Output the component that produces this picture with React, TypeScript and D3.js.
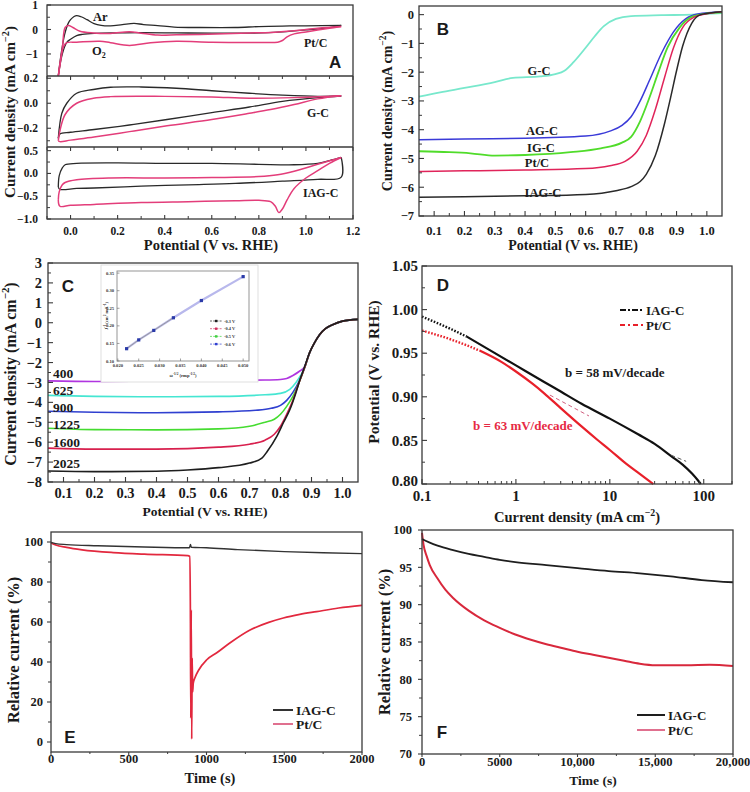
import React from "react";
import * as d3 from "d3";

type P = [number, number];
const SERIF = "'Liberation Serif','Times New Roman',Times,serif";
const SANS = "'Liberation Sans',Arial,Helvetica,sans-serif";
const AX = "#3a3a3a";
const INK = "#1a1a1a";
const BLK = "#2a2a2a";
const PINK = "#e33d7a";

// ---------------- Panel A : cyclic voltammograms ----------------
const aXTicks = [0, 0.2, 0.4, 0.6, 0.8, 1.0, 1.2];
const aXMinor = [-0.1, 0.1, 0.3, 0.5, 0.7, 0.9, 1.1];
const aY1Ticks = [1, 0, -1];
const aY1Minor = [0.5, -0.5, -1.5];
const aY2Ticks = [0.2, 0.0, -0.2];
const aY2Minor = [0.1, -0.1, -0.3];
const aY3Ticks = [0.5, 0.0, -0.5, -1.0];
const aY3Minor = [0.25, -0.25, -0.75];

const ptArFwd: P[] = [[-0.052, -1.9], [-0.04, -1.0], [-0.025, -0.2], [-0.01, 0.25], [0.0, 0.4], [0.015, 0.53], [0.026, 0.57], [0.045, 0.52], [0.07, 0.4], [0.1, 0.24], [0.13, 0.17], [0.17, 0.15], [0.22, 0.2], [0.27, 0.25], [0.31, 0.2], [0.37, 0.16], [0.44, 0.1], [0.55, 0.08], [0.7, 0.08], [0.8, 0.12], [0.9, 0.14], [1.0, 0.15], [1.15, 0.17]];
const ptArRev: P[] = [[1.15, 0.17], [1.1, 0.08], [1.0, -0.02], [0.9, -0.1], [0.76, -0.15], [0.6, -0.15], [0.45, -0.14], [0.3, -0.13], [0.2, -0.14], [0.1, -0.16], [0.05, -0.2], [0.026, -0.25], [0.0, -0.4], [-0.016, -0.53], [-0.035, -1.0], [-0.052, -1.9]];
const ptO2Fwd: P[] = [[-0.052, -1.9], [-0.035, -0.8], [-0.023, 0.08], [-0.009, 0.16], [0.01, 0.08], [0.04, -0.07], [0.097, -0.14], [0.17, -0.16], [0.25, -0.09], [0.3, -0.15], [0.37, -0.23], [0.45, -0.22], [0.55, -0.2], [0.76, -0.14], [0.85, -0.12], [0.95, -0.05], [1.05, 0.05], [1.15, 0.12]];
const ptO2Rev: P[] = [[1.15, 0.12], [1.1, 0.05], [1.0, -0.1], [0.95, -0.18], [0.92, -0.3], [0.9, -0.45], [0.88, -0.52], [0.8, -0.53], [0.6, -0.52], [0.45, -0.48], [0.34, -0.54], [0.25, -0.65], [0.17, -0.54], [0.125, -0.48], [0.026, -0.52], [-0.016, -0.54], [-0.03, -0.7], [-0.045, -1.4], [-0.052, -1.9]];

const gcArFwd: P[] = [[-0.052, -0.28], [-0.037, -0.08], [-0.016, 0.0], [0.026, 0.08], [0.097, 0.11], [0.17, 0.128], [0.3, 0.13], [0.45, 0.12], [0.6, 0.1], [0.76, 0.08], [0.9, 0.065], [1.05, 0.055], [1.15, 0.058]];
const gcArRev: P[] = [[1.15, 0.058], [1.05, 0.045], [0.9, 0.015], [0.76, -0.03], [0.6, -0.075], [0.41, -0.13], [0.25, -0.174], [0.1, -0.21], [0.0, -0.232], [-0.045, -0.245], [-0.052, -0.28]];
const gcO2Fwd: P[] = [[-0.052, -0.3], [-0.045, -0.22], [-0.023, -0.09], [0.026, 0.0], [0.097, 0.04], [0.17, 0.053], [0.4, 0.055], [0.6, 0.05], [0.76, 0.04], [0.95, 0.045], [1.15, 0.06]];
const gcO2Rev: P[] = [[1.15, 0.06], [1.05, 0.035], [0.95, -0.01], [0.85, -0.05], [0.76, -0.08], [0.6, -0.13], [0.41, -0.18], [0.25, -0.227], [0.1, -0.27], [0.0, -0.295], [-0.045, -0.307], [-0.052, -0.3]];

const iagArFwd: P[] = [[-0.052, -0.3], [-0.048, -0.05], [-0.035, 0.12], [-0.023, 0.19], [0.026, 0.22], [0.2, 0.23], [0.4, 0.22], [0.6, 0.22], [0.8, 0.2], [0.95, 0.19], [1.05, 0.22], [1.1, 0.28], [1.15, 0.35]];
const iagArRev: P[] = [[1.15, 0.35], [1.15, -0.08], [1.05, -0.13], [0.9, -0.17], [0.7, -0.22], [0.5, -0.25], [0.3, -0.28], [0.1, -0.32], [0.026, -0.33], [-0.045, -0.35], [-0.052, -0.3]];
const iagO2Fwd: P[] = [[-0.052, -0.58], [-0.048, -0.4], [-0.035, -0.25], [-0.023, -0.2], [0.026, -0.14], [0.17, -0.1], [0.4, -0.1], [0.6, -0.09], [0.8, -0.07], [0.88, -0.03], [0.95, 0.05], [1.05, 0.2], [1.15, 0.35]];
const iagO2Rev: P[] = [[1.15, 0.35], [1.1, 0.22], [1.05, 0.06], [1.0, -0.1], [0.95, -0.33], [0.92, -0.58], [0.9, -0.78], [0.885, -0.86], [0.87, -0.72], [0.85, -0.62], [0.8, -0.59], [0.7, -0.6], [0.5, -0.62], [0.3, -0.64], [0.1, -0.68], [0.0, -0.7], [-0.045, -0.72], [-0.052, -0.58]];

// ---------------- Panel B : LSV of catalysts ----------------
const bXTicks = [0.1, 0.2, 0.3, 0.4, 0.5, 0.6, 0.7, 0.8, 0.9, 1.0];
const bXMinor = [0.15, 0.25, 0.35, 0.45, 0.55, 0.65, 0.75, 0.85, 0.95];
const bYTicks = [0, -1, -2, -3, -4, -5, -6, -7];
const bYMinor = [-0.5, -1.5, -2.5, -3.5, -4.5, -5.5, -6.5];
const bGC: P[] = [[0.05, -2.85], [0.12, -2.7], [0.2, -2.55], [0.3, -2.35], [0.36, -2.2], [0.45, -2.15], [0.5, -2.07], [0.53, -1.95], [0.56, -1.65], [0.6, -1.15], [0.63, -0.75], [0.66, -0.4], [0.7, -0.15], [0.75, -0.05], [0.85, -0.02], [0.95, 0.0], [1.05, 0.05]];
const bAGC: P[] = [[0.05, -4.35], [0.2, -4.32], [0.4, -4.3], [0.6, -4.22], [0.68, -4.05], [0.72, -3.85], [0.75, -3.55], [0.78, -3.0], [0.81, -2.3], [0.85, -1.35], [0.89, -0.6], [0.93, -0.15], [0.97, 0.02], [1.05, 0.1]];
const bIGC: P[] = [[0.05, -4.75], [0.15, -4.78], [0.22, -4.82], [0.3, -4.9], [0.4, -4.88], [0.55, -4.78], [0.65, -4.65], [0.72, -4.45], [0.75, -4.25], [0.78, -3.7], [0.81, -2.9], [0.84, -2.0], [0.87, -1.15], [0.91, -0.45], [0.95, -0.08], [1.0, 0.04], [1.05, 0.08]];
const bPtC: P[] = [[0.05, -5.45], [0.2, -5.43], [0.4, -5.4], [0.6, -5.35], [0.68, -5.25], [0.73, -5.1], [0.77, -4.75], [0.8, -4.2], [0.83, -3.3], [0.86, -2.2], [0.89, -1.15], [0.92, -0.45], [0.96, -0.08], [1.0, 0.03], [1.05, 0.1]];
const bIAGC: P[] = [[0.05, -6.35], [0.2, -6.33], [0.4, -6.3], [0.6, -6.25], [0.7, -6.12], [0.75, -5.98], [0.78, -5.8], [0.8, -5.55], [0.83, -4.9], [0.86, -3.8], [0.88, -2.9], [0.9, -1.95], [0.92, -1.1], [0.95, -0.3], [0.98, 0.0], [1.05, 0.1]];

// ---------------- Panel C : LSV at rotation rates ----------------
const cXTicks = [0.1, 0.2, 0.3, 0.4, 0.5, 0.6, 0.7, 0.8, 0.9, 1.0];
const cXMinor = [0.15, 0.25, 0.35, 0.45, 0.55, 0.65, 0.75, 0.85, 0.95];
const cYTicks = [3, 2, 1, 0, -1, -2, -3, -4, -5, -6, -7, -8];
const cYMinor = [2.5, 1.5, 0.5, -0.5, -1.5, -2.5, -3.5, -4.5, -5.5, -6.5, -7.5];
const cRpm = ["400", "625", "900", "1225", "1600", "2025"];
const c400: P[] = [[0.05, -2.92], [0.2, -2.95], [0.4, -2.93], [0.6, -2.9], [0.75, -2.88], [0.8, -2.85], [0.82, -2.8], [0.84, -2.65], [0.86, -2.45], [0.878, -2.2], [0.894, -1.5], [0.91, -1.0], [0.926, -0.6], [0.945, -0.3], [0.968, -0.1], [1.0, 0.08], [1.05, 0.17]];
const c625: P[] = [[0.05, -3.65], [0.2, -3.7], [0.4, -3.72], [0.6, -3.7], [0.75, -3.62], [0.8, -3.55], [0.83, -3.35], [0.85, -3.0], [0.865, -2.65], [0.878, -2.25], [0.894, -1.5], [0.91, -1.0], [0.926, -0.6], [0.945, -0.3], [0.968, -0.1], [1.0, 0.08], [1.05, 0.17]];
const c900: P[] = [[0.05, -4.45], [0.2, -4.5], [0.4, -4.52], [0.6, -4.48], [0.72, -4.4], [0.77, -4.3], [0.8, -4.15], [0.82, -3.9], [0.84, -3.5], [0.86, -2.95], [0.878, -2.25], [0.894, -1.5], [0.91, -1.0], [0.926, -0.6], [0.945, -0.3], [0.968, -0.1], [1.0, 0.08], [1.05, 0.17]];
const c1225: P[] = [[0.05, -5.3], [0.2, -5.37], [0.4, -5.38], [0.6, -5.33], [0.7, -5.2], [0.75, -5.0], [0.78, -4.85], [0.8, -4.6], [0.82, -4.2], [0.84, -3.7], [0.86, -3.0], [0.878, -2.25], [0.894, -1.5], [0.91, -1.0], [0.926, -0.6], [0.945, -0.3], [0.968, -0.1], [1.0, 0.08], [1.05, 0.17]];
const c1600: P[] = [[0.05, -6.3], [0.2, -6.35], [0.4, -6.35], [0.6, -6.25], [0.7, -6.1], [0.75, -5.9], [0.78, -5.6], [0.8, -5.2], [0.82, -4.6], [0.84, -3.9], [0.86, -3.0], [0.878, -2.25], [0.894, -1.5], [0.91, -1.0], [0.926, -0.6], [0.945, -0.3], [0.968, -0.1], [1.0, 0.08], [1.05, 0.17]];
const c2025: P[] = [[0.05, -7.45], [0.2, -7.48], [0.4, -7.46], [0.5, -7.4], [0.6, -7.28], [0.7, -7.05], [0.74, -6.8], [0.757, -6.47], [0.788, -5.71], [0.81, -5.0], [0.83, -4.37], [0.85, -3.5], [0.862, -2.9], [0.878, -2.2], [0.894, -1.5], [0.91, -1.0], [0.926, -0.6], [0.945, -0.3], [0.968, -0.1], [1.0, 0.08], [1.05, 0.17]];
const cColors = ["#b035e0", "#45e6d2", "#3040d0", "#45dc30", "#d8204e", "#1e1e1e"];

// inset (Koutecky-Levich)
const kXTicks = [0.02, 0.025, 0.03, 0.035, 0.04, 0.045, 0.05];
const kYTicks = [0.1, 0.15, 0.2, 0.25, 0.3, 0.35];
const kOmega = [0.0221, 0.025, 0.0286, 0.0333, 0.04, 0.05];
const kInvJ = [0.135, 0.16, 0.187, 0.223, 0.272, 0.34];
const kLegend = ["-0.3 V", "-0.4 V", "-0.5 V", "-0.6 V"];
const kLegendColors = ["#222", "#d03060", "#40d040", "#3040d0"];

// ---------------- Panel D : Tafel ----------------
const dXTicks = [0.1, 1, 10, 100];
const dYTicks = [0.8, 0.85, 0.9, 0.95, 1.0, 1.05];
const dYMinor = [0.825, 0.875, 0.925, 0.975, 1.025];
const dIAG: P[] = [[0.1, 0.992], [0.2, 0.978], [0.3, 0.969], [0.5, 0.955], [1, 0.936], [2, 0.917], [3, 0.906], [5, 0.892], [10, 0.875], [20, 0.857], [30, 0.846], [45, 0.832], [60, 0.822], [75, 0.812], [87, 0.804], [93, 0.8]];
const dPt: P[] = [[0.1, 0.976], [0.2, 0.966], [0.3, 0.959], [0.41, 0.953], [0.7, 0.94], [1, 0.929], [1.5, 0.915], [2, 0.904], [3, 0.887], [5, 0.866], [7.3, 0.851], [10, 0.839], [15, 0.823], [20, 0.813], [29, 0.8]];
const dPtFit: P[] = [[2.3, 0.902], [6, 0.878]];
const dIagFit: P[] = [[45, 0.833], [65, 0.826]];

// ---------------- Panel E : methanol tolerance ----------------
const eXTicks = [0, 500, 1000, 1500, 2000];
const eXMinor = [250, 750, 1250, 1750];
const eYTicks = [0, 20, 40, 60, 80, 100];
const eYMinor = [10, 30, 50, 70, 90];
const eIAG: P[] = [[0, 99.8], [30, 99.2], [100, 98.7], [300, 98.1], [600, 97.5], [890, 97.1], [897, 98.8], [902, 97.4], [1000, 97.1], [1200, 96.2], [1500, 95.2], [1750, 94.6], [2000, 94.2]];
const ePt: P[] = [[0, 99.5], [30, 98.5], [100, 97.3], [200, 96.1], [400, 94.7], [600, 93.9], [880, 93.2], [892, 92.8], [896, 70], [899, 12], [902, 66], [905, 1.5], [908, 42], [911, 25], [915, 29.5], [925, 32], [950, 36], [1000, 41], [1066, 44.6], [1150, 49.5], [1280, 56], [1400, 59.8], [1494, 62], [1600, 63.8], [1708, 65.2], [1850, 67], [2000, 68.3]];

// ---------------- Panel F : durability ----------------
const fXTicks = [0, 5000, 10000, 15000, 20000];
const fXLabels = ["0", "5000", "10,000", "15,000", "20,000"];
const fXMinor = [2500, 7500, 12500, 17500];
const fYTicks = [70, 75, 80, 85, 90, 95, 100];
const fYMinor = [72.5, 77.5, 82.5, 87.5, 92.5, 97.5];
const fIAG: P[] = [[0, 98.8], [500, 98.3], [1000, 97.9], [2000, 97.3], [3000, 96.8], [4000, 96.4], [5000, 96.0], [6000, 95.7], [8000, 95.3], [10000, 94.9], [12000, 94.5], [14000, 94.2], [16000, 93.8], [18000, 93.3], [20000, 93.0]];
const fPt: P[] = [[0, 99.6], [100, 98.0], [300, 96.5], [500, 95.3], [1000, 93.5], [1500, 92.0], [2000, 90.9], [3000, 89.2], [4000, 87.9], [5000, 86.9], [6000, 86.0], [7000, 85.3], [8000, 84.7], [9000, 84.2], [10000, 83.7], [11000, 83.3], [12000, 82.9], [13000, 82.5], [14000, 82.1], [15000, 81.9], [17000, 81.9], [18500, 81.95], [20000, 81.8]];

// ---------------- helpers ----------------
const fmtN = (d: number, p: number) => (d < 0 ? "\u2212" : "") + Math.abs(d).toFixed(p);

function path(data: P[], xs: any, ys: any, curve: any = d3.curveMonotoneX) {
  return d3.line<P>().x((d) => xs(d[0])).y((d) => ys(d[1])).curve(curve)(data) || "";
}

function YAxis({ ys, x0, major, minor = [], fmt, fs, gap, inward = true, len = 5, mlen = 3, shift = () => 0 }: any) {
  const s = inward ? 1 : -1;
  return (
    <g>
      {major.map((t: number, i: number) => (
        <g key={i}>
          <line x1={x0} x2={x0 + s * len} y1={ys(t)} y2={ys(t)} stroke={AX} strokeWidth={1.1} />
          <text x={x0 - gap} y={ys(t) + shift(t)} dy="0.35em" textAnchor="end" fontSize={fs} fontFamily={SERIF} fontWeight="bold" fill={INK}>{fmt(t)}</text>
        </g>
      ))}
      {minor.map((t: number, i: number) => (
        <line key={"m" + i} x1={x0} x2={x0 + s * mlen} y1={ys(t)} y2={ys(t)} stroke={AX} strokeWidth={1} />
      ))}
    </g>
  );
}

function XAxis({ xs, y0, major, minor = [], fmt, fs, gap, dir = -1, len = 5, mlen = 3, labels = true }: any) {
  return (
    <g>
      {major.map((t: number, i: number) => (
        <g key={i}>
          <line x1={xs(t)} x2={xs(t)} y1={y0} y2={y0 + dir * len} stroke={AX} strokeWidth={1.1} />
          {labels && (
            <text x={xs(t)} y={y0 + gap} dy="0.71em" textAnchor="middle" fontSize={fs} fontFamily={SERIF} fontWeight="bold" fill={INK}>{fmt(t, i)}</text>
          )}
        </g>
      ))}
      {minor.map((t: number, i: number) => (
        <line key={"m" + i} x1={xs(t)} x2={xs(t)} y1={y0} y2={y0 + dir * mlen} stroke={AX} strokeWidth={1} />
      ))}
    </g>
  );
}

function Frame({ x0, x1, y0, y1 }: any) {
  return <rect x={x0} y={y0} width={x1 - x0} height={y1 - y0} fill="none" stroke={AX} strokeWidth={1.3} />;
}

function Lbl({ x, y, fs, children, anchor = "start", fill = INK, family = SERIF }: any) {
  return (
    <text x={x} y={y} fontSize={fs} fontFamily={family} fontWeight="bold" textAnchor={anchor} fill={fill}>{children}</text>
  );
}

function CurrentLabel({ x, y, fs, rotate = true }: any) {
  return (
    <text transform={`translate(${x},${y})${rotate ? " rotate(-90)" : ""}`} textAnchor="middle" fontSize={fs} fontFamily={SERIF} fontWeight="bold" fill={INK}>
      {"Current density (mA cm"}
      <tspan dy={-fs * 0.42} fontSize={fs * 0.68}>{"\u22122"}</tspan>
      <tspan dy={fs * 0.42}>{")"}</tspan>
    </text>
  );
}

function RotLabel({ x, y, fs, children }: any) {
  return (
    <text transform={`translate(${x},${y}) rotate(-90)`} textAnchor="middle" fontSize={fs} fontFamily={SERIF} fontWeight="bold" fill={INK}>{children}</text>
  );
}

const cr = d3.curveCatmullRom.alpha(0.5);

export default function App() {
  // ---- scales ----
  const aX = d3.scaleLinear().domain([-0.1, 1.2]).range([47, 353]);
  const aY1 = d3.scaleLinear().domain([-1.9, 1.0]).range([76, 5]);
  const aY2 = d3.scaleLinear().domain([-0.35, 0.218]).range([147, 76]);
  const aY3 = d3.scaleLinear().domain([-1.0, 0.58]).range([219, 147]);

  const bX = d3.scaleLinear().domain([0.05, 1.05]).range([419, 722]);
  const bY = d3.scaleLinear().domain([-7, 0.3]).range([216, 6]);

  const cX = d3.scaleLinear().domain([0.05, 1.05]).range([48, 358]);
  const cY = d3.scaleLinear().domain([-8, 3]).range([482, 263]);

  const kX = d3.scaleLinear().domain([0.0198, 0.0514]).range([117, 249]);
  const kY = d3.scaleLinear().domain([0.1, 0.356]).range([361, 271]);

  const dX = d3.scaleLog().domain([0.1, 200]).range([422, 732]);
  const dY = d3.scaleLinear().domain([0.8, 1.05]).range([484, 266]);

  const eX = d3.scaleLinear().domain([0, 2000]).range([51, 362]);
  const eY = d3.scaleLinear().domain([-5, 105]).range([752, 532]);

  const fX = d3.scaleLinear().domain([0, 20000]).range([422, 733]);
  const fY = d3.scaleLinear().domain([70, 100]).range([754, 530]);

  const dMinor: number[] = [];
  [0.1, 1, 10, 100].forEach((dec) => {
    for (let k = 2; k <= 9; k++) if (dec * k <= 200) dMinor.push(dec * k);
  });

  const cSeries = [c400, c625, c900, c1225, c1600, c2025];
  const cLabelY = [378, 395, 412, 429, 447, 468];
  const kPts: P[] = kOmega.map((w, i) => [w, kInvJ[i]]);

  return (
    <svg width={750} height={792} style={{ position: "absolute", left: 0, top: 0, background: "#fff" }}>
      <rect x={0} y={0} width={750} height={792} fill="#fff" />

      {/* ================= Panel A ================= */}
      <g>
        <path d={path(ptArFwd, aX, aY1, cr)} fill="none" stroke={BLK} strokeWidth={1.3} />
        <path d={path(ptArRev, aX, aY1, cr)} fill="none" stroke={BLK} strokeWidth={1.3} />
        <path d={path(ptO2Fwd, aX, aY1, cr)} fill="none" stroke={PINK} strokeWidth={1.5} />
        <path d={path(ptO2Rev, aX, aY1, cr)} fill="none" stroke={PINK} strokeWidth={1.5} />

        <path d={path(gcArFwd, aX, aY2, cr)} fill="none" stroke={BLK} strokeWidth={1.3} />
        <path d={path(gcArRev, aX, aY2, cr)} fill="none" stroke={BLK} strokeWidth={1.3} />
        <path d={path(gcO2Fwd, aX, aY2, cr)} fill="none" stroke={PINK} strokeWidth={1.5} />
        <path d={path(gcO2Rev, aX, aY2, cr)} fill="none" stroke={PINK} strokeWidth={1.5} />

        <path d={path(iagArFwd, aX, aY3, cr)} fill="none" stroke={BLK} strokeWidth={1.3} />
        <path d={path(iagArRev, aX, aY3, cr)} fill="none" stroke={BLK} strokeWidth={1.3} />
        <path d={path(iagO2Fwd, aX, aY3, cr)} fill="none" stroke={PINK} strokeWidth={1.5} />
        <path d={path(iagO2Rev, aX, aY3, cr)} fill="none" stroke={PINK} strokeWidth={1.5} />

        <Frame x0={47} x1={353} y0={5} y1={219} />
        <line x1={47} x2={353} y1={76} y2={76} stroke={AX} strokeWidth={1.3} />
        <line x1={47} x2={353} y1={147} y2={147} stroke={AX} strokeWidth={1.3} />

        <YAxis ys={aY1} x0={47} major={aY1Ticks} minor={aY1Minor} fmt={(d: number) => fmtN(d, 0)} fs={11.5} gap={9} len={4} />
        <YAxis ys={aY2} x0={47} major={aY2Ticks} minor={aY2Minor} fmt={(d: number) => fmtN(d, 1)} fs={11.5} gap={9} len={4} />
        <YAxis ys={aY3} x0={47} major={aY3Ticks} minor={aY3Minor} fmt={(d: number) => fmtN(d, 1)} fs={11.5} gap={9} len={4} />
        <XAxis xs={aX} y0={219} major={aXTicks} minor={aXMinor} fmt={(d: number) => d.toFixed(1)} fs={11.5} gap={8} dir={-1} len={4} />
        <XAxis xs={aX} y0={147} major={aXTicks} minor={aXMinor} fmt={() => ""} fs={11} gap={0} dir={1} len={4} labels={false} />
        <XAxis xs={aX} y0={76} major={aXTicks} minor={aXMinor} fmt={() => ""} fs={11} gap={0} dir={1} len={4} labels={false} />

        <Lbl x={93} y={21} fs={12.5}>Ar</Lbl>
        <text x={92} y={55} fontSize={12.5} fontFamily={SERIF} fontWeight="bold" fill={INK}>
          O<tspan dy={3} fontSize={8}>2</tspan>
        </text>
        <Lbl x={304} y={47} fs={12}>Pt/C</Lbl>
        <Lbl x={307} y={117} fs={12}>G-C</Lbl>
        <Lbl x={303} y={197} fs={12}>IAG-C</Lbl>
        <Lbl x={329} y={68} fs={17} family={SANS}>A</Lbl>

        <CurrentLabel x={15} y={112} fs={15} />
        <Lbl x={211} y={250} fs={14.5} anchor="middle">Potential (V vs. RHE)</Lbl>
      </g>

      {/* ================= Panel B ================= */}
      <g>
        <path d={path(bGC, bX, bY)} fill="none" stroke="#78e8cc" strokeWidth={1.8} />
        <path d={path(bAGC, bX, bY)} fill="none" stroke="#3a3ad8" strokeWidth={1.5} />
        <path d={path(bIGC, bX, bY)} fill="none" stroke="#50dc2a" strokeWidth={1.8} />
        <path d={path(bPtC, bX, bY)} fill="none" stroke="#e0245a" strokeWidth={1.5} />
        <path d={path(bIAGC, bX, bY)} fill="none" stroke={BLK} strokeWidth={1.5} />

        <Frame x0={419} x1={722} y0={6} y1={216} />
        <YAxis ys={bY} x0={419} major={bYTicks} minor={bYMinor} fmt={(d: number) => fmtN(d, 0)} fs={12.5} gap={5} />
        <XAxis xs={bX} y0={216} major={bXTicks} minor={bXMinor} fmt={(d: number) => d.toFixed(1)} fs={12.5} gap={10} />

        <Lbl x={443} y={35} fs={17} family={SANS} anchor="middle">B</Lbl>
        <Lbl x={539} y={75} fs={12.5} anchor="middle">G-C</Lbl>
        <Lbl x={542} y={135} fs={12.5} anchor="middle">AG-C</Lbl>
        <Lbl x={541} y={152} fs={12.5} anchor="middle">IG-C</Lbl>
        <Lbl x={537} y={167} fs={12.5} anchor="middle">Pt/C</Lbl>
        <Lbl x={543} y={197} fs={12.5} anchor="middle">IAG-C</Lbl>

        <CurrentLabel x={392} y={111} fs={14} />
        <Lbl x={573} y={250} fs={14} anchor="middle">Potential (V vs. RHE)</Lbl>
      </g>

      {/* ================= Panel C ================= */}
      <g>
        {cSeries.map((s, i) => (
          <path key={i} d={path(s, cX, cY)} fill="none" stroke={cColors[i]} strokeWidth={1.6} />
        ))}
        <Frame x0={48} x1={358} y0={263} y1={482} />
        <YAxis ys={cY} x0={48} major={cYTicks} minor={cYMinor} fmt={(d: number) => fmtN(d, 0)} fs={14.5} gap={6} />
        <XAxis xs={cX} y0={482} major={cXTicks} minor={cXMinor} fmt={(d: number) => d.toFixed(1)} fs={14.5} gap={6} />
        {cRpm.map((r, i) => (
          <Lbl key={r} x={53} y={cLabelY[i]} fs={13.5}>{r}</Lbl>
        ))}
        <Lbl x={68} y={292} fs={17} family={SANS} anchor="middle">C</Lbl>
        <CurrentLabel x={16} y={374} fs={16} />
        <Lbl x={205} y={516} fs={13.5} anchor="middle">Potential (V vs. RHE)</Lbl>

        {/* inset */}
        <rect x={101} y={265} width={157} height={117} fill="#fff" stroke="#d8d8d8" strokeWidth={0.8} />
        <rect x={117} y={271} width={132} height={90} fill="none" stroke="#8a8a8a" strokeWidth={0.9} />
        {kXTicks.map((t, i) => (
          <g key={"kx" + i}>
            <line x1={kX(t)} x2={kX(t)} y1={361} y2={358.5} stroke="#777" strokeWidth={0.7} />
            <text x={kX(t)} y={367} textAnchor="middle" fontSize={4.6} fontFamily={SERIF} fontWeight="bold" fill="#333">{t.toFixed(3)}</text>
          </g>
        ))}
        {kYTicks.map((t, i) => (
          <g key={"ky" + i}>
            <line x1={117} x2={119.5} y1={kY(t)} y2={kY(t)} stroke="#777" strokeWidth={0.7} />
            <text x={114} y={kY(t)} dy="0.35em" textAnchor="end" fontSize={4.6} fontFamily={SERIF} fontWeight="bold" fill="#333">{t.toFixed(2)}</text>
          </g>
        ))}
        <path d={path(kPts, kX, kY, d3.curveLinear)} fill="none" stroke="#b8b8ec" strokeWidth={2.2} />
        <path d={path(kPts.slice(0, 4), kX, kY, d3.curveLinear)} fill="none" stroke="#9a9a9a" strokeWidth={1} />
        {kPts.map((p, i) => (
          <rect key={"kp" + i} x={kX(p[0]) - 1.6} y={kY(p[1]) - 1.6} width={3.2} height={3.2} fill="#2a3aa8" />
        ))}
        {kLegend.map((l, i) => (
          <g key={"kl" + i}>
            <line x1={210} x2={222} y1={321 + i * 7.7} y2={321 + i * 7.7} stroke={kLegendColors[i]} strokeWidth={0.7} strokeDasharray="2,1.2" />
            <rect x={215} y={319.8 + i * 7.7} width={2.4} height={2.4} fill={kLegendColors[i]} />
            <text x={224} y={322.6 + i * 7.7} fontSize={4.4} fontFamily={SERIF} fontWeight="bold" fill="#333">{l}</text>
          </g>
        ))}
        <text transform="translate(108,316) rotate(-90)" textAnchor="middle" fontSize={4.6} fontFamily={SERIF} fontWeight="bold" fill="#333">
          J<tspan dy={-2} fontSize={3.4}>-1</tspan><tspan dy={2}> (cm</tspan><tspan dy={-2} fontSize={3.4}>2</tspan><tspan dy={2}> mA</tspan><tspan dy={-2} fontSize={3.4}>-1</tspan><tspan dy={2}>)</tspan>
        </text>
        <text x={183} y={377} textAnchor="middle" fontSize={4.6} fontFamily={SERIF} fontWeight="bold" fill="#333">
          ω<tspan dy={-2} fontSize={3.4}>-1/2</tspan><tspan dy={2}> (rmp</tspan><tspan dy={-2} fontSize={3.4}>-1/2</tspan><tspan dy={2}>)</tspan>
        </text>
      </g>

      {/* ================= Panel D ================= */}
      <g>
        <path d={path(dIAG.filter((d) => d[0] >= 0.3), dX, dY)} fill="none" stroke="#111" strokeWidth={2.2} />
        <path d={path(dIAG.filter((d) => d[0] <= 0.3), dX, dY)} fill="none" stroke="#111" strokeWidth={2.4} strokeDasharray="1.6,1.6" />
        <path d={path(dPt.filter((d) => d[0] >= 0.41), dX, dY)} fill="none" stroke="#e8202a" strokeWidth={2.2} />
        <path d={path(dPt.filter((d) => d[0] <= 0.41), dX, dY)} fill="none" stroke="#e8202a" strokeWidth={2.4} strokeDasharray="1.6,1.6" />
        <path d={path(dPtFit, dX, dY, d3.curveLinear)} fill="none" stroke="#d06080" strokeWidth={1} strokeDasharray="4,3" />
        <path d={path(dIagFit, dX, dY, d3.curveLinear)} fill="none" stroke="#555" strokeWidth={1} strokeDasharray="4,3" />

        <Frame x0={422} x1={732} y0={266} y1={484} />
        <YAxis ys={dY} x0={422} major={dYTicks} minor={dYMinor} fmt={(d: number) => d.toFixed(2)} fs={15} gap={4} shift={(t: number) => (t === 0.8 ? -3 : 0)} />
        <XAxis xs={dX} y0={484} major={dXTicks} minor={dMinor} fmt={(d: number) => String(d)} fs={15} gap={6} />

        <Lbl x={443} y={291} fs={17} family={SANS} anchor="middle">D</Lbl>
        <line x1={620} x2={643} y1={310} y2={310} stroke="#111" strokeWidth={1.8} strokeDasharray="6,2,2,2" />
        <Lbl x={646} y={314.5} fs={13}>IAG-C</Lbl>
        <line x1={620} x2={643} y1={325} y2={325} stroke="#e8202a" strokeWidth={1.8} strokeDasharray="5,3,2,3" />
        <Lbl x={646} y={329.5} fs={13}>Pt/C</Lbl>
        <Lbl x={565} y={377} fs={13}>b = 58 mV/decade</Lbl>
        <Lbl x={473} y={430} fs={13} fill="#e62a44">b = 63 mV/decade</Lbl>

        <RotLabel x={379} y={372} fs={15.5}>Potential (V vs. RHE)</RotLabel>
        <CurrentLabel x={577} y={522} fs={14.5} rotate={false} />
      </g>

      {/* ================= Panel E ================= */}
      <g>
        <path d={path(ePt, eX, eY)} fill="none" stroke="#e2283e" strokeWidth={1.7} />
        <path d={path(eIAG, eX, eY)} fill="none" stroke="#333" strokeWidth={1.4} />
        <Frame x0={51} x1={362} y0={532} y1={752} />
        <YAxis ys={eY} x0={51} major={eYTicks} minor={eYMinor} fmt={(d: number) => String(d)} fs={12.5} gap={8} inward={false} len={4} />
        <XAxis xs={eX} y0={752} major={eXTicks} minor={eXMinor} fmt={(d: number) => String(d)} fs={12.5} gap={2.5} dir={1} len={3} mlen={2} />
        <line x1={273} x2={293} y1={710} y2={710} stroke="#333" strokeWidth={2} />
        <Lbl x={296} y={714.5} fs={13.5}>IAG-C</Lbl>
        <line x1={273} x2={293} y1={724} y2={724} stroke="#e0708f" strokeWidth={2} />
        <Lbl x={296} y={728.5} fs={13.5}>Pt/C</Lbl>
        <Lbl x={70} y={743} fs={17} family={SANS} anchor="middle">E</Lbl>
        <RotLabel x={19} y={650} fs={16.5}>Relative current (%)</RotLabel>
        <Lbl x={210} y={783} fs={14.5} anchor="middle">Time (s)</Lbl>
      </g>

      {/* ================= Panel F ================= */}
      <g>
        <path d={path(fPt, fX, fY)} fill="none" stroke="#d8283c" strokeWidth={2} />
        <path d={path(fIAG, fX, fY)} fill="none" stroke="#1e1e1e" strokeWidth={1.8} />
        <Frame x0={422} x1={733} y0={530} y1={754} />
        <YAxis ys={fY} x0={422} major={fYTicks} minor={fYMinor} fmt={(d: number) => String(d)} fs={12.5} gap={10} inward={false} len={4} />
        <XAxis xs={fX} y0={754} major={fXTicks} minor={fXMinor} fmt={(_d: number, i: number) => fXLabels[i]} fs={12.5} gap={3} dir={1} len={3} mlen={2} />
        <line x1={637} x2={665} y1={715} y2={715} stroke="#1e1e1e" strokeWidth={2} />
        <Lbl x={668} y={719.5} fs={13}>IAG-C</Lbl>
        <line x1={637} x2={665} y1={730} y2={730} stroke="#e0708f" strokeWidth={2} />
        <Lbl x={668} y={734.5} fs={13}>Pt/C</Lbl>
        <Lbl x={442} y={738} fs={17} family={SANS} anchor="middle">F</Lbl>
        <RotLabel x={390} y={642} fs={16.5}>Relative current (%)</RotLabel>
        <Lbl x={593} y={785} fs={13.5} anchor="middle">Time (s)</Lbl>
      </g>
    </svg>
  );
}
